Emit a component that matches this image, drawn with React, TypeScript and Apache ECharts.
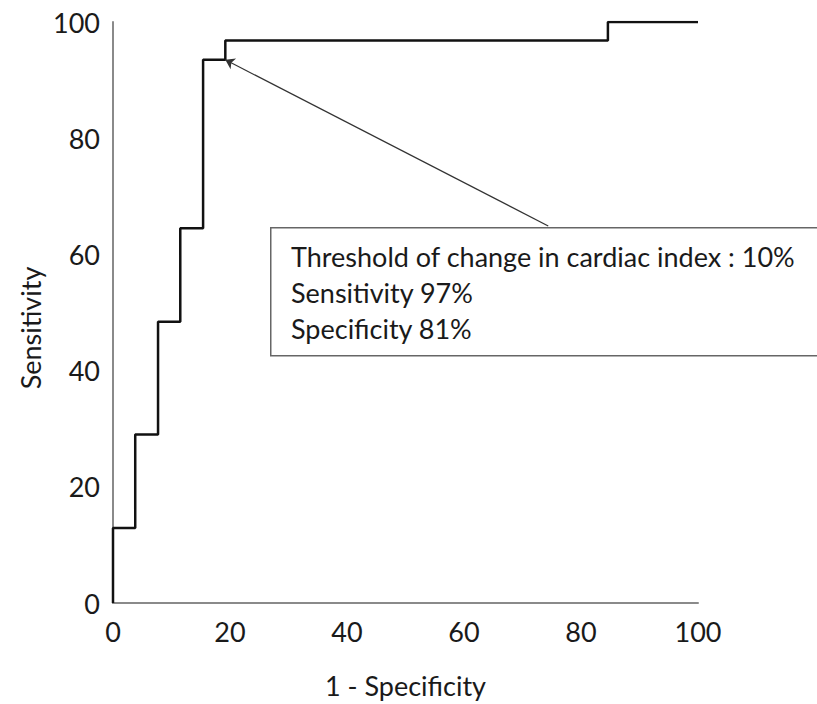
import React, { useEffect, useRef } from "react";
import * as echarts from "echarts";

// ROC curve points: false-positive rate (1 - specificity) and true-positive rate, in %
const fpr = [0, 0, 3.8, 7.7, 11.5, 15.4, 19.2, 84.6, 100];
const tpr = [0, 12.9, 29.0, 48.4, 64.5, 93.5, 96.8, 100, 100];

const xTicks = [0, 20, 40, 60, 80, 100];
const yTicks = [0, 20, 40, 60, 80, 100];

// Annotation: arrow from the text box to the chosen cut-off on the curve
const arrowFrom = [74.4, 64.9];
const arrowTo = [19.2, 93.5];
const noteLines = [
  "Threshold of change in cardiac index : 10%",
  "Sensitivity 97%",
  "Specificity 81%",
];

const FONT = "Lato, 'Open Sans', sans-serif";
const TEXT = "#1a1a1a";
const AXIS = "#8a8a8a";
const FS = 27;

export default function App() {
  const ref = useRef<HTMLDivElement>(null);

  useEffect(() => {
    if (!ref.current) return;
    const chart = echarts.init(ref.current, null, { renderer: "svg" });
    const points = fpr.map((x, i) => [x, tpr[i]]);

    chart.setOption({
      animation: false,
      backgroundColor: "#ffffff",
      textStyle: { fontFamily: FONT },
      grid: { left: 113, right: 119, top: 22, bottom: 97, containLabel: false },
      xAxis: {
        type: "value",
        min: xTicks[0],
        max: xTicks[xTicks.length - 1],
        interval: 20,
        name: "1 - Specificity",
        nameLocation: "middle",
        nameGap: 69,
        nameTextStyle: { fontSize: FS, color: TEXT, fontFamily: FONT },
        axisLine: { show: true, lineStyle: { color: AXIS, width: 2 } },
        axisTick: { show: false },
        splitLine: { show: false },
        axisLabel: { fontSize: FS, color: TEXT, margin: 15, fontFamily: FONT },
      },
      yAxis: {
        type: "value",
        min: yTicks[0],
        max: yTicks[yTicks.length - 1],
        interval: 20,
        axisLine: { show: true, lineStyle: { color: AXIS, width: 2 } },
        axisTick: { show: false },
        splitLine: { show: false },
        axisLabel: { fontSize: FS, color: TEXT, margin: 13, fontFamily: FONT },
      },
      series: [
        {
          type: "line",
          data: points,
          step: "end",
          symbol: "none",
          lineStyle: { color: "#111111", width: 2.5 },
          markLine: {
            silent: true,
            symbol: ["none", "arrow"],
            symbolSize: 9,
            label: { show: false },
            lineStyle: { color: "#333333", width: 1.2, type: "solid" },
            data: [[{ coord: arrowFrom }, { coord: arrowTo }]],
          },
        },
      ],
      graphic: [
        {
          type: "text",
          x: 30,
          y: 328,
          rotation: Math.PI / 2,
          style: {
            text: "Sensitivity",
            fontSize: FS,
            fill: TEXT,
            fontFamily: FONT,
            textAlign: "center",
            textVerticalAlign: "middle",
          },
        },
        {
          type: "rect",
          left: 270,
          top: 227,
          shape: { width: 570, height: 128 },
          style: { fill: "#ffffff", stroke: "#666666", lineWidth: 1.5 },
          z: 10,
        },
        {
          type: "text",
          left: 291,
          top: 238,
          style: {
            text: noteLines.join("\n"),
            fontSize: FS,
            lineHeight: 36,
            fill: TEXT,
            fontFamily: FONT,
          },
          z: 11,
        },
      ],
    });

    return () => chart.dispose();
  }, []);

  return (
    <div
      ref={ref}
      style={{ position: "fixed", left: 0, top: 0, width: 817, height: 704 }}
    />
  );
}
